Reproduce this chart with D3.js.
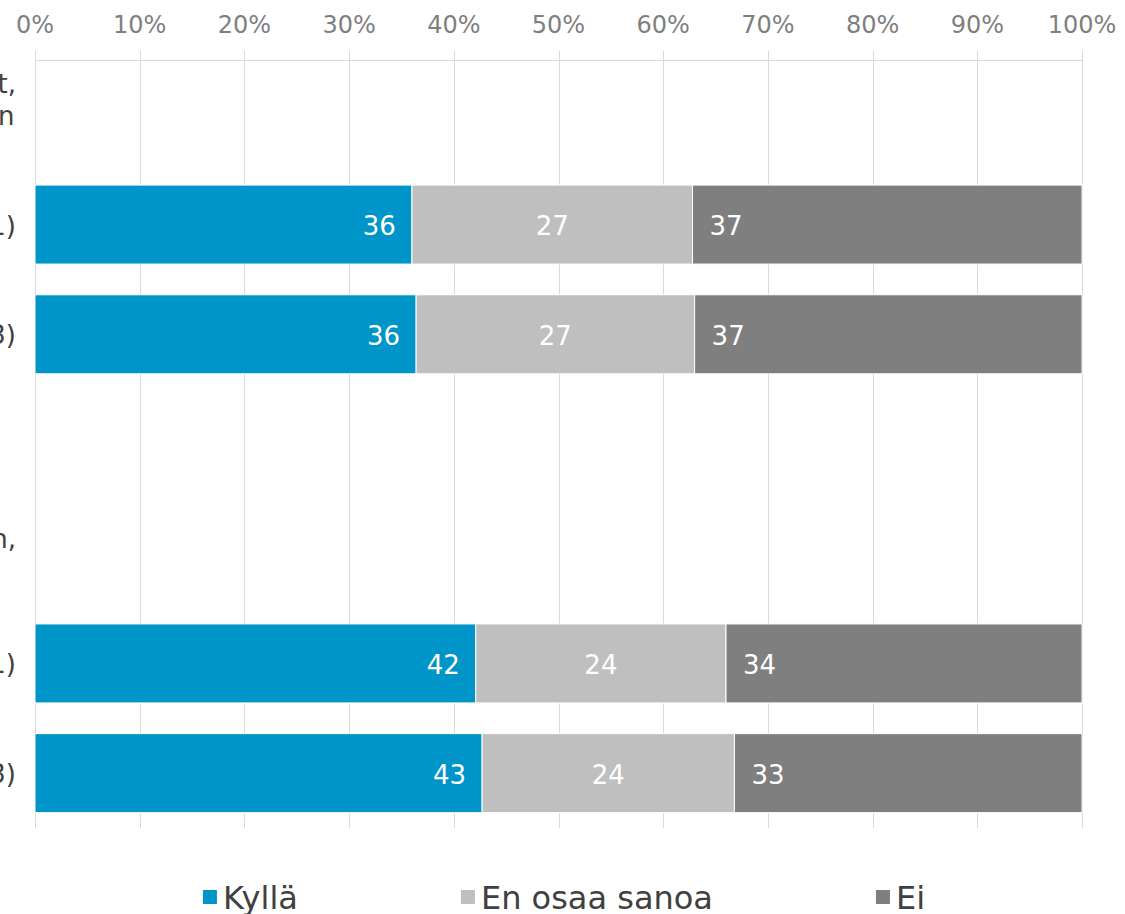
<!DOCTYPE html>
<html>
<head>
<meta charset="utf-8">
<script src="https://cdn.jsdelivr.net/npm/d3@7"></script>
<style>
  html, body { margin: 0; padding: 0; background: #fff; overflow: hidden; }
  svg { display: block; font-family: "DejaVu Sans", Verdana, sans-serif; }
</style>
</head>
<body>
<svg width="1125" height="914"></svg>
<script>
// Rows of the chart, top to bottom. Title rows have no values.
const rows = ['t1', 'a2021', 'a2023', 'gap', 't2', 'b2021', 'b2023'];
const rowLabels = {
  t1: ['Luottaa siihen, että tietoja käsitellään nyt,', 'turvallisesti ja asianmukaisesti verkossa n', 'kyselyyn vastanneet'],
  a2021: ['Vuosi 2021 (n=1001)'],
  a2023: ['Vuosi 2023 (n=1003)'],
  gap: [],
  t2: ['Luottaa siihen, että viranomaiset toimivat oikein,', 'kaikki vastaajat'],
  b2021: ['Vuosi 2021 (n=1001)'],
  b2023: ['Vuosi 2023 (n=1003)']
};
const series = ['Kyllä', 'En osaa sanoa', 'Ei'];
const colors = ['#0095c8', '#bfbfbf', '#7f7f7f'];
const kylla = {a2021: 36.0, a2023: 36.4, b2021: 42.1, b2023: 42.7};
const eos = {a2021: 26.8, a2023: 26.6, b2021: 23.9, b2023: 24.1};
const ei = {a2021: 37.2, a2023: 37.0, b2021: 34.0, b2023: 33.2};
const ticks = [0, 10, 20, 30, 40, 50, 60, 70, 80, 90, 100];

const svg = d3.select('svg');
const margin = {top: 60, left: 35, right: 43, bottom: 86};
const width = +svg.attr('width');
const height = +svg.attr('height');

const x = d3.scaleLinear().domain([0, 100]).range([margin.left, width - margin.right]);
const y = d3.scaleBand().domain(rows)
  .range([margin.top, height - margin.bottom])
  .paddingInner(0.28).paddingOuter(0.14);

// Grid + axis line
const grid = svg.append('g');
grid.selectAll('line')
  .data(ticks).enter()
  .append('line')
  .attr('x1', d => Math.round(x(d)) + 0.5)
  .attr('x2', d => Math.round(x(d)) + 0.5)
  .attr('y1', margin.top - 9)
  .attr('y2', height - margin.bottom)
  .attr('stroke', '#d9d9d9')
  .attr('stroke-width', 1);
grid.append('line')
  .attr('x1', x(0)).attr('x2', x(100))
  .attr('y1', margin.top + 0.5).attr('y2', margin.top + 0.5)
  .attr('stroke', '#d9d9d9');

svg.append('g').selectAll('text')
  .data(ticks).enter()
  .append('text')
  .attr('x', d => x(d))
  .attr('y', 33)
  .attr('text-anchor', 'middle')
  .attr('fill', '#7f7f7f')
  .attr('font-size', 24)
  .text(d => d + '%');

// Stacked bars
const dataRows = rows.filter(r => kylla[r] !== undefined);
const stackData = dataRows.map(r => ({row: r, 'Kyllä': kylla[r], 'En osaa sanoa': eos[r], 'Ei': ei[r]}));
const stacked = d3.stack().keys(series)(stackData);

const layers = svg.append('g').selectAll('g')
  .data(stacked).enter()
  .append('g')
  .attr('fill', (d, i) => colors[i]);

layers.selectAll('rect')
  .data(d => d).enter()
  .append('rect')
  .attr('x', d => x(d[0]))
  .attr('width', d => x(d[1]) - x(d[0]))
  .attr('y', d => y(d.data.row))
  .attr('height', y.bandwidth())
  .attr('stroke', '#fff')
  .attr('stroke-width', 1);

// Data labels: inside end, center, inside base
layers.each(function (layer, i) {
  d3.select(this).selectAll('text')
    .data(layer).enter()
    .append('text')
    .attr('x', d => i === 0 ? x(d[1]) - 16 : i === 1 ? (x(d[0]) + x(d[1])) / 2 : x(d[0]) + 17)
    .attr('y', d => y(d.data.row) + y.bandwidth() / 2 + 10.5)
    .attr('text-anchor', i === 0 ? 'end' : i === 1 ? 'middle' : 'start')
    .attr('fill', '#fff')
    .attr('font-size', 26)
    .text(d => Math.round(d.data[layer.key]));
});

// Category labels (mostly cut off on the left, as in the original)
const labelRight = 16;
const lineH = 32;
const catG = svg.append('g').attr('fill', '#404040').attr('font-size', 26);
rows.forEach(r => {
  const lines = rowLabels[r];
  if (!lines.length) return;
  const t = catG.append('text').attr('text-anchor', 'middle');
  const cy = y(r) + y.bandwidth() / 2;
  lines.forEach((l, i) => {
    t.append('tspan')
      .attr('y', cy + (i - (lines.length - 1) / 2) * lineH + 10)
      .text(l);
  });
  const widths = [];
  t.selectAll('tspan').each(function () { widths.push(this.getComputedTextLength()); });
  const cx = labelRight - d3.max(widths) / 2;
  t.selectAll('tspan').attr('x', cx);
});

// Legend
const legend = svg.append('g').attr('font-size', 32).attr('fill', '#404040');
const items = legend.selectAll('g')
  .data(series).enter()
  .append('g');
items.append('rect')
  .attr('width', 14).attr('height', 14)
  .attr('y', 890)
  .attr('fill', (d, i) => colors[i]);
items.append('text')
  .attr('x', 20)
  .attr('y', 909)
  .text(d => d);
const gap = 163;
let itemW = [];
items.each(function () { itemW.push(this.getBBox().width); });
const total = d3.sum(itemW) + gap * (series.length - 1);
let lx = 564 - total / 2;
items.each(function (d, i) {
  d3.select(this).attr('transform', `translate(${lx},0)`);
  lx += itemW[i] + gap;
});
</script>
</body>
</html>
